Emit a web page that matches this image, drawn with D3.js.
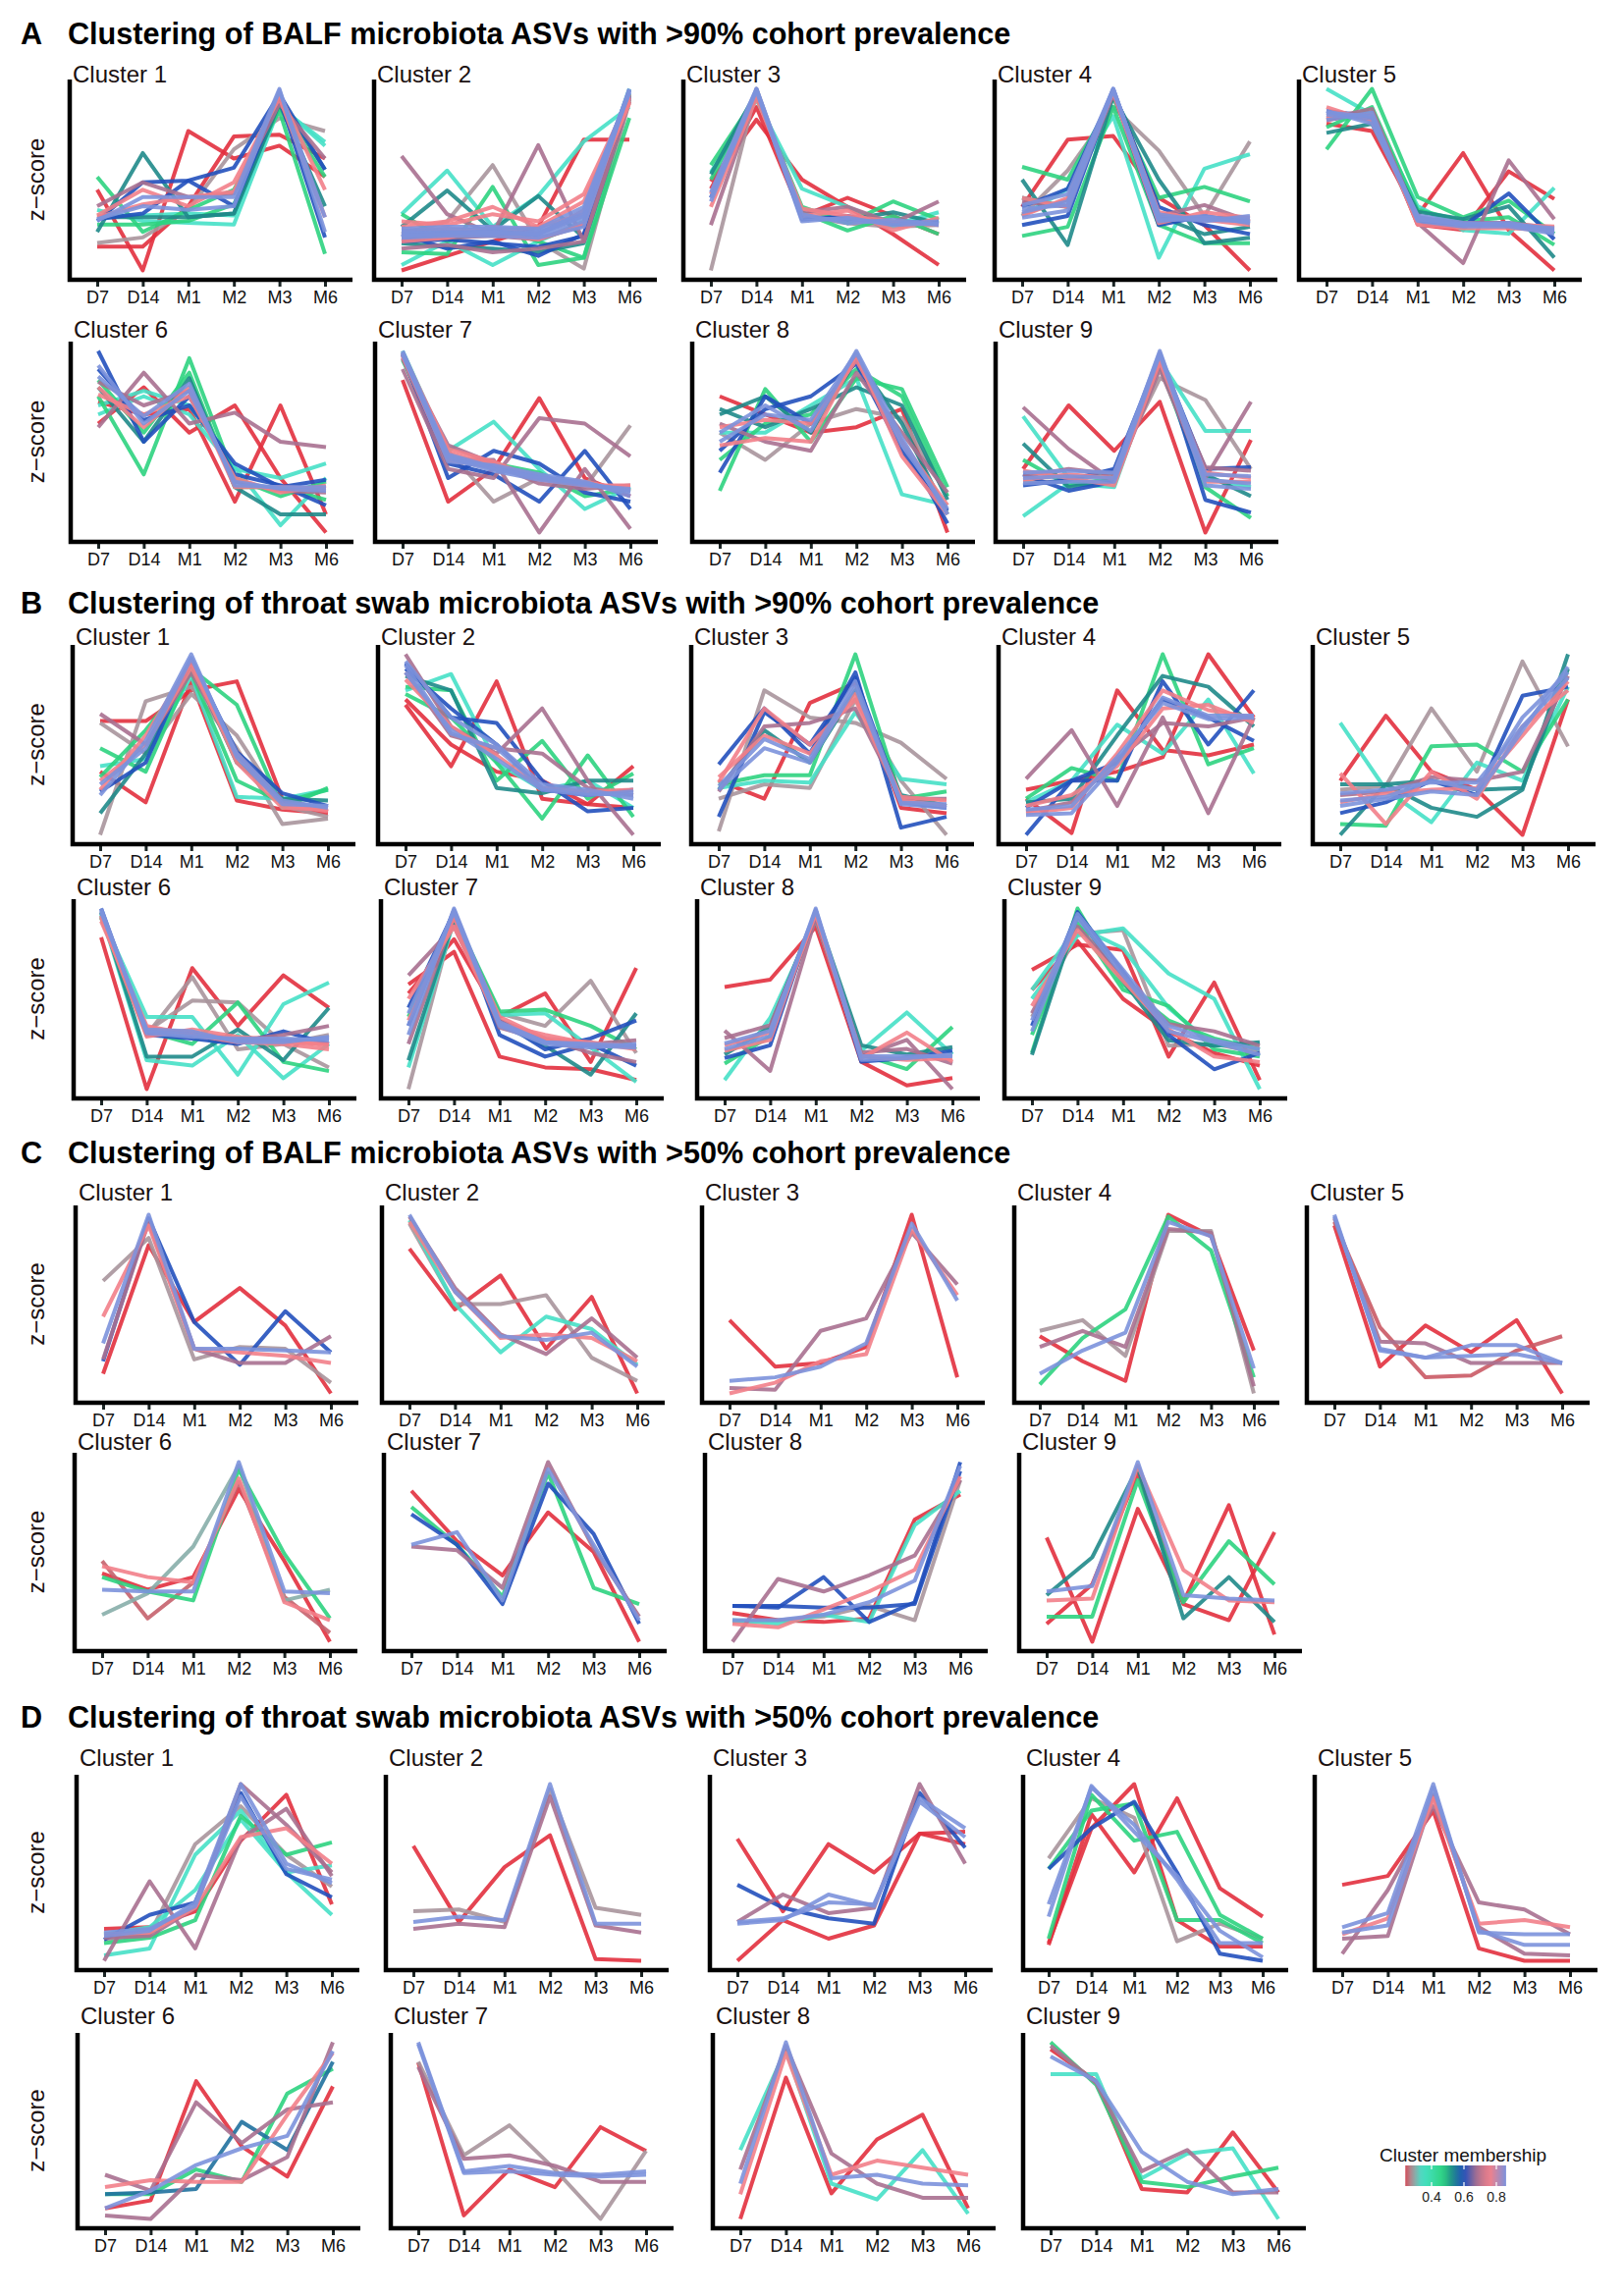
<!DOCTYPE html>
<html><head><meta charset="utf-8">
<script src="https://cdn.jsdelivr.net/npm/d3@7"></script>
<style>body{margin:0;background:#fff}svg{display:block}</style>
</head><body>
<svg id="c" width="1654" height="2339"></svg>
<script>
// ---- time points / tick labels ----
const times = ["D7","D14","M1","M2","M3","M6"];
// ---- membership levels used by lines ----
const R=0.22, GR=0.28, T=0.34, G=0.47, TL=0.53, DB=0.60, MV=0.68, PK=0.76, LB=0.86;
// ---- legend ----
const legendTicks = [0.4, 0.6, 0.8];
const legendStops = [0.22, 0.28, 0.34, 0.40, 0.47, 0.53, 0.60, 0.68, 0.76, 0.86];
const legendColors = ["#e2303e","#a8959c","#46e0c6","#3ddbaa","#2ed380","#1f8a8a","#2250bc","#a87090","#f2808a","#7c92dc"];
const titles = [
 "Clustering of BALF microbiota ASVs with >90% cohort prevalence",
 "Clustering of throat swab microbiota ASVs with >90% cohort prevalence",
 "Clustering of BALF microbiota ASVs with >50% cohort prevalence",
 "Clustering of throat swab microbiota ASVs with >50% cohort prevalence"];
const letters = ["A","B","C","D"];
// each line: [membership, D7, D14, M1, M2, M3, M6] (relative z-score)
const balf90 = [
[[R,4.4,0,7.6,6.1,6.8,5.1],[R,1.3,1.3,3.5,7.3,7.4,6.1],[GR,1.5,1.8,3.3,6.6,8.3,7.6],[G,5.1,2.1,3.3,4.4,8.7,0.9],[TL,2.1,6.4,2.9,3.1,9.1,3.5],[T,3.3,2.7,2.6,2.5,8.9,7.0],[DB,2.7,4.8,4.9,5.6,9.6,5.5],[DB,2.8,3.1,4.9,3.5,9.4,1.8],[PK,3.0,4.4,3.5,4.8,9.4,2.9],[MV,3.5,4.8,4.0,4.2,9.1,6.1],[PK,2.9,3.6,4.0,4.3,9.6,4.4],[LB,2.7,4.0,4.0,4.0,9.9,2.1],[LB,2.8,3.5,3.3,3.5,9.8,2.9],[TL,2.9,2.9,2.9,3.1,9.3,5.5],[G,2.5,2.5,2.7,3.6,8.9,5.1],[T,3.0,3.0,3.1,3.0,9.0,6.8]],
[[MV,6.3,3.1,2.0,6.9,1.6,9.3],[GR,2.0,2.7,5.8,1.6,0.1,9.3],[R,0,0.8,1.6,2.4,7.2,7.2],[T,3.1,5.5,2.4,4.1,7.1,9.0],[TL,2.4,4.4,2.2,4.1,1.8,9.7],[G,1.0,0.9,4.6,0.3,0.7,8.4],[G,3.1,1.6,2.4,1.6,0.7,9.7],[T,0.3,1.6,0.3,1.6,2.7,10],[DB,2.0,1.2,1.6,0.8,2.0,9.5],[PK,2.4,2.7,3.5,2.4,3.1,9.3],[PK,1.6,1.8,2.4,2.0,3.3,9.2],[LB,2.0,2.0,2.2,1.9,2.7,10],[LB,2.2,2.2,2.3,2.2,3.1,9.9],[LB,1.8,1.9,1.9,1.8,2.4,9.95],[MV,1.2,1.4,1.0,1.2,1.6,9.5],[LB,2.3,2.4,2.4,2.3,3.5,9.8],[DB,1.6,1.7,1.5,1.3,1.9,9.6],[PK,2.7,2.5,3.1,2.7,4.2,9.5],[LB,2.1,2.1,2.0,2.1,2.9,9.9],[TL,1.5,1.3,1.2,1.0,1.5,9.4],[PK,1.9,2.1,2.0,1.7,2.6,9.7],[LB,2.0,2.1,2.1,2.0,3.0,9.8],[MV,1.8,1.8,1.9,1.7,2.5,9.6],[PK,2.2,2.3,2.2,2.4,3.8,9.4],[LB,1.9,2.0,2.1,2.0,3.3,9.9]],
[[GR,0,10,3.0,2.6,2.4,2.5],[R,4.9,8.3,5.0,3.5,2.0,0.3],[R,4.5,9.0,3.0,4.0,3.0,2.0],[G,5.8,9.6,3.5,2.6,3.8,2.8],[T,5.4,9.4,4.5,3.5,2.5,3.2],[TL,5.3,9.8,3.0,2.8,3.2,2.6],[DB,4.0,9.9,2.8,3.0,2.6,2.7],[MV,2.5,9.7,3.2,3.5,2.6,3.8],[PK,3.5,9.5,3.4,3.0,2.7,2.5],[PK,4.2,9.8,3.0,3.3,2.2,2.9],[LB,4.0,10,2.9,2.8,2.6,2.7],[LB,4.3,10,3.1,2.6,2.8,2.5],[LB,3.8,9.9,2.7,2.9,2.5,2.6],[G,5.0,9.7,3.2,2.2,3.0,2.0]],
[[R,3.5,7.2,7.4,4.0,2.5,0],[GR,3.0,5.5,9.0,6.6,3.0,7.1],[G,5.7,5.0,9.5,4.0,4.6,3.8],[G,1.9,2.4,9.0,2.5,1.5,1.5],[T,3.0,4.5,8.5,0.7,5.6,6.4],[TL,5.0,1.4,9.6,5.0,1.5,1.8],[TL,4.0,3.5,9.8,3.0,2.0,2.4],[DB,2.5,3.0,9.9,3.5,2.5,2.0],[DB,3.5,4.5,9.8,2.5,3.0,2.6],[MV,3.8,3.5,9.7,3.0,3.6,2.7],[PK,3.0,4.0,9.8,2.6,3.2,2.9],[PK,4.0,3.5,9.9,3.2,2.8,2.5],[LB,3.2,3.8,10,2.9,2.9,2.8],[LB,3.6,4.2,10,2.7,3.0,2.6],[LB,2.9,3.3,9.9,3.1,2.7,3.0],[LB,3.4,3.6,10,2.8,2.8,2.7],[MV,3.1,3.9,9.8,3.0,2.9,2.9]],
[[R,8.0,7.6,3.0,6.4,2.2,0],[R,8.2,8.6,2.5,2.2,5.4,3.9],[MV,8.6,8.2,2.6,0.4,6.0,2.8],[T,9.9,8.5,3.5,2.2,2.0,4.5],[G,6.6,9.9,4.0,2.9,3.8,2.0],[TL,7.5,8.0,3.2,2.8,3.5,0.7],[DB,8.7,8.4,2.6,2.4,4.2,1.7],[MV,8.3,8.8,2.8,2.6,2.6,2.3],[PK,8.9,8.1,2.9,2.5,2.5,2.4],[PK,8.4,8.5,2.5,2.3,2.3,2.2],[LB,8.5,8.3,2.8,2.5,2.6,2.2],[LB,8.2,8.6,2.7,2.4,2.4,2.0],[LB,8.7,8.0,3.0,2.6,2.5,2.3],[G,7.8,8.9,3.3,2.7,2.9,1.4],[LB,8.6,8.4,2.9,2.5,2.5,2.1]],
[[R,6.0,8.0,5.5,7.0,3.0,0],[R,7.2,6.5,6.8,1.7,7.0,1.0],[MV,5.8,8.8,6.0,6.6,5.0,4.7],[G,7.5,3.2,9.6,3.0,2.0,2.8],[T,7.0,7.8,7.0,3.6,0.4,3.0],[TL,8.0,5.0,8.5,2.5,1.0,1.0],[DB,10,5.0,7.5,3.2,2.6,1.5],[DB,9.0,6.2,7.0,3.8,2.5,2.9],[MV,8.3,7.0,7.8,2.8,2.3,2.2],[PK,8.0,5.8,8.0,2.5,2.5,2.4],[PK,7.6,6.5,7.5,3.0,2.2,2.6],[LB,9.2,6.0,7.8,2.8,2.4,2.3],[LB,8.6,6.4,8.2,2.6,2.5,2.5],[T,6.5,7.5,6.5,3.5,3.0,3.8],[G,8.4,5.5,8.8,2.5,2.5,1.8]],
[[R,8.4,1.7,3.5,7.4,3.0,2.0],[MV,9.0,3.5,3.0,6.3,6.0,4.2],[MV,9.6,4.0,4.0,0,3.5,0.2],[GR,9.8,4.5,1.7,3.0,2.5,5.9],[T,10,4.5,6.1,3.5,1.3,2.5],[DB,9.9,3.8,3.2,1.7,4.5,1.3],[DB,9.8,3.0,4.5,3.8,2.2,1.7],[G,9.5,4.2,3.8,3.3,2.0,2.4],[PK,9.7,4.0,3.6,3.0,2.8,2.3],[PK,9.9,4.6,3.9,2.9,2.6,2.6],[LB,10,4.3,3.6,3.1,2.7,2.2],[LB,9.8,4.1,3.4,2.9,2.6,2.4],[LB,9.9,3.9,3.7,3.2,2.8,2.0],[MV,9.6,4.8,3.8,2.7,2.4,2.6],[LB,9.9,4.2,3.5,3.0,2.7,2.3],[PK,9.8,4.4,3.7,3.1,2.6,2.5]],
[[R,7.5,6.5,5.5,5.8,6.8,0],[GR,5.5,4.0,6.0,6.8,6.3,2.0],[G,2.3,7.9,5.0,8.5,7.9,2.5],[G,4.0,6.0,6.5,9.0,7.5,2.0],[T,5.5,5.5,7.0,8.5,2.1,1.5],[TL,6.5,7.5,5.5,9.5,6.0,1.0],[DB,3.3,7.5,6.0,9.6,5.0,0.5],[DB,4.5,6.8,7.5,9.3,4.5,1.2],[MV,6.0,5.0,4.5,8.8,5.5,2.2],[PK,4.8,5.2,5.0,9.8,4.2,1.0],[PK,5.8,6.2,6.0,9.5,5.0,1.5],[LB,5.0,6.5,6.2,9.9,4.8,1.3],[LB,5.5,7.0,5.6,10,5.2,1.0],[TL,6.8,5.8,6.8,8.0,7.0,1.8]],
[[R,3.5,7.0,4.5,7.2,0,5.1],[MV,6.9,4.6,2.8,9.0,3.0,7.2],[T,6.4,3.0,3.2,9.5,5.6,5.6],[T,0.9,2.7,2.5,9.6,3.0,2.5],[GR,2.8,2.8,3.4,8.5,7.3,3.5],[G,4.0,2.6,3.0,9.2,2.5,0.8],[TL,4.9,2.5,2.9,9.5,3.2,2.0],[DB,3.2,2.3,2.8,9.8,1.8,1.1],[DB,2.6,2.9,3.5,9.7,3.5,3.6],[PK,2.9,3.2,3.0,9.6,2.8,2.8],[PK,3.4,3.0,2.6,9.4,3.3,3.0],[LB,3.0,3.1,3.0,10,2.9,2.7],[LB,3.3,3.4,3.3,9.9,3.2,3.1],[LB,2.7,2.8,2.8,9.8,2.6,2.4],[MV,3.1,3.5,3.2,9.3,3.6,3.4]]
];
const throat90 = [
[[R,6.3,6.3,8.0,8.5,2.0,1.3],[R,3.5,1.8,8.5,1.9,1.4,1.2],[GR,6.2,4.5,7.8,5.5,1.6,1.0],[GR,0,7.4,8.2,4.8,0.6,0.9],[MV,6.7,5.0,9.0,4.5,1.8,1.5],[G,4.8,3.5,9.2,7.2,1.5,2.6],[T,3.8,4.2,8.8,2.1,2.0,2.5],[TL,1.2,4.5,9.5,4.0,2.0,1.9],[DB,2.4,4.0,9.7,4.6,2.3,1.6],[PK,3.0,5.0,9.3,4.4,1.7,1.3],[PK,2.5,5.5,9.6,4.0,1.5,1.4],[LB,2.2,5.2,10,4.3,1.7,1.6],[LB,2.8,4.8,9.8,4.5,1.9,1.5],[G,3.2,5.8,9.0,3.0,1.8,2.5]],
[[R,7.2,3.8,8.5,2.0,1.7,3.8],[R,7.5,5.0,3.5,3.0,1.7,1.5],[MV,10,6.0,4.5,7.0,3.0,0],[T,8.0,8.9,4.0,2.5,3.0,1.5],[G,8.2,8.0,3.0,5.2,2.0,3.4],[G,7.8,6.5,4.0,0.9,4.4,1.0],[TL,8.8,8.0,2.6,2.3,3.0,3.0],[DB,9.5,6.5,6.2,3.0,1.3,1.5],[DB,9.2,7.0,5.0,2.5,2.2,2.5],[MV,9.0,5.5,4.8,4.5,2.6,2.2],[PK,8.6,6.0,4.4,2.6,2.4,2.5],[LB,9.4,5.6,4.8,2.6,2.3,2.2],[LB,9.0,5.8,4.2,2.5,2.2,2.4],[LB,9.6,6.5,5.0,2.8,2.5,2.0]],
[[R,3.0,2.0,7.3,8.4,1.5,1.2],[GR,0.2,8.0,6.5,6.2,5.1,3.1],[T,2.6,3.0,2.9,6.8,3.1,2.8],[G,2.8,3.3,3.3,10,2.0,2.4],[TL,2.5,5.8,4.0,8.0,2.2,1.6],[DB,3.9,7.0,4.5,9.0,0.4,1.0],[DB,1.0,6.8,5.0,8.7,1.8,1.5],[MV,2.4,6.0,6.2,7.0,2.0,2.0],[PK,2.9,7.0,5.0,7.5,1.9,1.6],[PK,3.2,5.5,4.5,7.8,2.1,1.9],[LB,2.7,5.3,4.2,8.5,1.8,1.7],[LB,2.5,4.8,4.0,8.2,1.7,1.5],[GR,2.0,2.8,2.6,7.5,3.0,0]],
[[R,2.0,0.1,8.0,4.7,4.4,5.0],[R,2.5,3.0,3.5,4.3,10,6.5],[MV,3.1,5.8,1.6,6.5,1.2,6.5],[T,1.8,3.0,6.1,4.5,7.5,3.4],[G,2.0,3.7,3.0,10,3.9,4.8],[TL,1.8,2.0,5.5,8.8,8.2,6.0],[DB,0,3.0,3.0,8.5,5.0,8.0],[DB,1.5,3.0,4.0,7.5,6.5,5.2],[MV,1.3,1.8,4.2,6.2,6.0,6.5],[PK,1.2,1.5,4.5,8.0,6.9,6.5],[PK,1.6,2.2,3.8,7.0,7.2,6.2],[LB,1.1,1.2,4.0,7.6,6.6,6.6],[LB,1.4,1.6,4.3,7.3,6.4,6.5]],
[[R,3.0,6.6,3.5,2.5,0,7.5],[GR,2.5,2.7,7.0,3.5,9.6,4.9],[T,6.2,2.5,0.7,4.0,3.0,8.2],[G,0.6,0.5,4.9,5.0,3.5,7.5],[TL,0,2.8,1.5,1.0,2.5,10],[TL,2.8,2.8,3.0,2.5,2.6,9.2],[DB,1.2,1.8,3.0,2.2,7.7,8.2],[MV,2.2,2.4,3.2,3.0,3.5,8.8],[PK,3.4,0.6,3.5,2.0,6.0,8.0],[PK,1.8,2.3,2.5,2.6,5.5,8.5],[LB,1.9,2.1,3.0,2.5,6.5,9.0],[LB,2.3,2.5,2.9,2.9,6.0,8.7],[LB,1.6,2.0,2.4,2.2,5.8,9.3]],
[[R,8.4,0,6.7,3.5,6.3,4.5],[GR,9.5,3.0,6.2,2.2,2.5,1.2],[GR,9.8,3.2,4.9,4.8,2.5,3.0],[T,9.6,4.0,4.0,0.8,4.7,5.9],[T,9.7,1.6,1.3,3.0,0.6,2.5],[G,9.5,3.2,2.5,4.8,1.5,1.0],[TL,9.8,1.8,1.8,3.3,1.6,4.5],[DB,10,3.0,2.8,2.5,3.2,2.5],[MV,9.6,3.2,3.1,2.7,3.0,3.5],[PK,9.3,3.5,3.0,2.6,2.5,2.2],[PK,9.5,2.9,3.3,2.9,2.7,2.4],[LB,10,3.1,2.9,2.8,2.8,2.7],[LB,9.8,3.3,3.2,2.6,2.6,2.9],[LB,9.9,3.2,3.0,2.7,2.7,2.8],[PK,9.6,3.4,3.1,2.8,2.6,2.5]],
[[R,5.8,7.6,1.8,1.2,1.1,0.5],[R,5.3,8.3,4.0,5.3,1.5,6.7],[MV,6.3,9.0,3.8,2.8,2.0,1.5],[GR,0,9.5,4.2,3.5,6.0,2.0],[T,1.2,9.3,4.1,4.2,2.3,0.4],[G,4.0,9.6,4.3,4.4,3.5,2.2],[TL,1.6,9.4,3.6,2.4,0.8,4.2],[DB,4.5,9.8,3.8,2.2,2.8,3.8],[DB,3.5,9.9,3.0,1.8,2.5,1.3],[PK,5.0,9.0,3.6,3.0,2.5,2.4],[PK,3.8,9.5,4.0,2.8,2.6,2.2],[LB,3.0,10,3.7,2.6,2.4,2.3],[LB,4.2,9.8,3.5,2.5,2.3,2.5],[MV,2.5,9.6,3.4,2.7,2.5,2.7],[LB,3.5,9.9,3.6,2.6,2.5,2.4]],
[[R,5.7,6.1,9.0,1.6,0.3,0.7],[MV,3.3,1.1,9.5,1.9,2.8,0.1],[T,0.6,4.0,9.4,2.2,4.3,2.0],[G,1.5,3.0,9.6,2.0,1.2,3.5],[TL,2.0,3.5,9.8,2.5,2.0,2.4],[DB,1.8,2.5,9.9,1.6,1.8,2.2],[PK,2.5,3.2,9.7,1.8,3.2,1.6],[PK,2.2,2.8,9.8,1.9,1.7,1.8],[LB,2.3,3.0,10,1.9,1.9,1.9],[LB,2.6,3.3,9.9,1.7,1.8,2.0],[MV,2.9,3.6,9.5,2.1,2.3,1.5]],
[[R,6.6,8.0,7.7,1.8,5.9,0.5],[R,5.5,8.2,5.0,3.2,2.0,1.3],[T,5.0,8.5,8.9,6.4,5.0,0],[T,5.5,9.0,7.8,4.5,2.4,2.5],[G,2.0,10,5.8,3.8,2.8,2.2],[G,3.0,9.2,5.5,4.6,2.2,1.8],[TL,1.9,9.6,6.0,2.7,2.4,2.6],[DB,3.5,9.8,6.5,3.0,1.1,2.0],[MV,4.2,9.0,6.2,3.6,3.2,2.4],[PK,4.6,8.8,6.0,3.3,1.8,1.5],[LB,3.8,9.7,6.6,3.5,2.7,2.2],[LB,3.2,9.5,6.3,3.2,2.6,1.9],[GR,4.0,8.6,8.8,2.4,2.5,2.0]]
];
const balf50 = [
[[R,1.1,8.3,4.0,5.9,3.8,0],[GR,6.3,8.7,1.9,2.6,2.5,0.6],[PK,4.3,9.4,2.5,2.3,2.1,1.7],[DB,1.8,9.8,4.0,1.6,4.6,2.3],[MV,1.9,9.6,2.5,1.7,1.7,3.2],[LB,2.8,10,2.5,2.5,2.4,2.3]],
[[R,8.1,4.7,6.6,2.5,5.4,0],[GR,9.5,5.0,5.0,5.5,2.0,0.7],[T,9.7,5.0,2.3,4.3,3.6,1.6],[MV,9.9,5.9,3.3,2.2,4.2,2.0],[PK,9.6,5.7,3.1,3.3,3.1,1.8],[LB,10,5.7,3.2,3.0,3.4,1.5]],
[[R,4.1,1.5,1.7,2.6,10,0.9],[MV,0.3,0.2,3.5,4.2,9.0,6.1],[PK,0,0.6,1.8,2.2,9.2,5.5],[LB,0.7,0.9,1.5,2.8,9.5,5.2]],
[[R,3.2,1.8,0.7,10,8.8,2.4],[GR,3.5,4.1,2.1,9.1,9.1,0],[MV,2.6,3.5,2.6,9.2,9.0,0.4],[G,0.5,3.1,4.7,9.9,8.0,0.9],[LB,1.1,2.4,3.4,9.6,8.8,1.4]],
[[R,9.4,1.5,3.8,2.3,4.1,0],[0.245,9.6,3.7,0.9,1.0,2.4,3.2],[MV,9.8,2.9,2.8,1.7,1.7,1.7],[LB,10,2.4,2.0,2.7,2.7,1.7],[LB,9.9,2.5,2.0,2.1,2.2,1.7]],
[[R,3.8,2.9,3.6,8.5,4.5,0],[0.25,4.5,1.3,3.3,8.9,2.5,0.5],[PK,4.2,3.6,3.3,9.1,2.2,1.2],[G,3.6,2.8,2.3,9.6,4.9,1.3],[0.30,1.5,2.7,5.3,9.8,2.3,2.9],[LB,2.9,2.8,2.8,10,2.8,2.7]],
[[R,8.4,5.6,3.7,7.2,5.0,0],[G,7.5,5.4,2.5,9.4,3.0,2.1],[DB,7.1,5.4,2.1,8.8,6.0,1.0],[MV,5.3,5.1,3.0,10,5.2,1.4],[LB,5.4,6.1,2.3,9.6,5.4,1.2]],
[[R,1.6,1.2,1.1,1.3,6.8,8.2],[MV,0,3.5,2.8,3.7,4.8,9.0],[T,1.2,1.0,1.5,1.1,6.5,8.4],[DB,2.0,1.9,3.6,1.1,2.2,10],[DB,2.0,2.0,1.9,1.9,2.1,9.5],[PK,1.0,0.8,1.8,2.8,4.0,9.2],[GR,1.1,1.2,1.4,2.0,1.2,9.0],[LB,1.2,1.2,1.5,2.2,3.4,9.8]],
[[R,5.8,0,7.4,2.2,7.6,0.4],[R,1.0,3.2,9.4,2.1,1.2,6.1],[G,1.4,1.4,9.0,2.2,5.6,3.2],[TL,2.6,4.7,9.7,1.3,3.6,1.1],[PK,2.3,2.4,9.8,4.0,2.3,2.2],[LB,2.8,3.1,10,2.6,2.4,2.3]]
];
const throat50 = [
[[R,1.8,1.9,2.8,6.8,9.4,3.2],[MV,0,4.5,0.7,6.9,8.6,4.8],[GR,1.2,1.5,6.6,8.75,6.0,4.2],[T,0.3,0.7,6.0,8.5,5.0,2.6],[G,1.0,1.3,2.3,8.2,6.0,6.7],[T,1.5,1.9,4.0,8.0,5.0,5.4],[DB,1.2,2.6,3.3,9.5,4.9,3.6],[PK,1.5,1.6,3.0,7.0,7.5,5.5],[MV,1.3,1.4,3.0,10,7.7,5.0],[LB,1.4,1.7,3.3,10,5.5,4.4],[LB,1.6,1.8,3.1,9.3,5.2,4.6]],
[[R,6.5,2.2,5.3,7.1,0.1,0],[GR,2.8,2.9,2.2,9.7,3.0,2.6],[MV,1.8,2.1,1.9,9.3,2.0,1.6],[LB,2.2,2.5,2.3,10,2.1,2.1]],
[[R,6.9,2.8,6.6,5.0,7.2,6.6],[R,0,2.3,1.25,2.0,7.2,7.3],[DB,4.3,3.0,2.4,2.1,9.5,6.4],[MV,2.2,3.75,2.7,3.0,10,5.5],[LB,2.1,2.3,3.75,3.1,9.2,7.5],[LB,2.2,2.4,3.3,3.2,9.0,7.0]],
[[R,0.9,8.3,5.0,9.2,4.1,2.5],[R,1.0,7.5,10,2.3,0.8,0.8],[GR,5.8,9.2,8.1,1.1,2.1,1.25],[G,1.25,9.4,6.8,7.3,2.6,1.25],[G,5.2,8.5,8.9,2.3,2.3,1.0],[DB,5.2,7.5,9.0,5.0,0.4,0],[LB,2.5,9.9,7.3,4.8,1.7,0.2],[LB,3.2,9.8,7.7,4.6,1.0,1.0]],
[[R,4.3,4.8,8.5,0.7,0,0],[MV,0.4,4.0,8.75,3.3,2.9,1.5],[MV,1.25,1.4,9.4,1.9,0.4,0.3],[PK,1.5,2.4,9.2,2.1,2.3,1.9],[LB,1.9,2.7,10,1.6,1.5,1.5],[LB,1.6,2.0,9.8,1.7,0.9,0.9]],
[[R,0.6,1.05,7.8,4.1,2.4,7.5],[MV,2.5,1.6,6.6,4.3,6.2,6.6],[MV,0.2,0,2.5,2.2,3.5,10],[G,1.4,1.4,2.8,2.1,7.1,8.5],[0.56,1.4,1.5,1.7,5.5,3.9,8.9],[PK,1.8,2.2,2.1,2.1,5.9,9.4],[LB,0.6,1.6,3.05,4.0,4.7,9.5]],
[[R,8.85,0.2,2.8,1.8,5.2,3.85],[GR,8.9,3.6,5.3,2.8,0,3.85],[MV,8.6,3.4,3.6,3.0,2.1,2.1],[LB,10,2.7,3.0,2.6,2.5,2.7],[LB,9.9,2.6,2.7,2.5,2.4,2.5]],
[[R,0,8.0,1.45,4.5,5.9,0.6],[T,3.9,9.6,2.0,1.1,3.9,0.3],[MV,2.8,9.8,3.7,2.0,1.2,1.2],[PK,1.4,9.4,2.5,3.3,2.9,2.5],[LB,2.0,10,2.3,2.5,2.0,1.9]],
[[R,9.6,7.8,1.7,1.5,4.9,1.5],[T,8.2,8.2,2.3,3.7,4.0,0],[G,10,7.6,2.1,1.8,2.4,2.9],[MV,9.8,7.7,2.7,3.9,1.5,1.5],[LB,9.2,7.8,3.8,2.1,1.4,1.7]]
];

// ---------------- layout (positions, not data) ----------------
const layout = [
 {titleY:45, rows:[{top:81,base:285,label:84},{top:348,base:552,label:344}], ax:[71,381,696,1013,1323,72,382,705,1014], narrow:[]},
 {titleY:625, rows:[{top:657,base:860,label:657},{top:916,base:1119,label:912}], ax:[74,385,704,1017,1337,75,388,710,1023], narrow:[]},
 {titleY:1185, rows:[{top:1228,base:1429,label:1223},{top:1480,base:1682,label:1477}], ax:[77,389,715,1033,1331,76,391,718,1038], narrow:[3]},
 {titleY:1760, rows:[{top:1808,base:2007,label:1799},{top:2071,base:2270,label:2062}], ax:[78,393,723,1042,1339,79,398,726,1042], narrow:[3]}
];
const sectionData = [balf90, throat90, balf50, throat50];
const FONT = "'Liberation Sans', Arial, Helvetica, sans-serif";

const svg = d3.select("#c");
const color = d3.scaleLinear().domain(legendStops).range(legendColors).interpolate(d3.interpolateRgb).clamp(true);

layout.forEach((sec, si) => {
  svg.append("text").attr("x",21).attr("y",sec.titleY).attr("font-family",FONT).attr("font-weight","bold").attr("font-size",30.6).attr("fill","#000").text(letters[si]);
  svg.append("text").attr("x",69).attr("y",sec.titleY).attr("font-family",FONT).attr("font-weight","bold").attr("font-size",30.6).attr("fill","#000").text(titles[si]);
  sec.rows.forEach(r => {
    const cy = (r.top + r.base)/2;
    svg.append("text").attr("transform",`translate(45,${cy}) rotate(-90)`).attr("text-anchor","middle")
      .attr("font-family",FONT).attr("font-size",24).attr("fill","#1a1010").text("z\u2212score");
  });
  sectionData[si].forEach((lines, pi) => {
    const r = sec.rows[pi < 5 ? 0 : 1];
    const ax = sec.ax[pi];
    const nar = sec.narrow.includes(pi);
    const x = d3.scalePoint().domain(times).range(nar ? [ax+26, ax+244] : [ax+28, ax+260]);
    const xe = nar ? ax+270 : ax+288;
    const vals = lines.flatMap(l => l.slice(1));
    const y = d3.scaleLinear().domain(d3.extent(vals)).range([r.base-9.5, r.top+9.5]);
    const g = svg.append("g");
    const sorted = lines.slice().sort((a,b) => a[0]-b[0]);
    const line = d3.line().x((d,j) => x(times[j])).y(d => y(d));
    g.selectAll("path.ln").data(sorted).join("path").attr("class","ln")
      .attr("d", d => line(d.slice(1))).attr("fill","none")
      .attr("stroke", d => color(d[0])).attr("stroke-width",4).attr("stroke-opacity",0.9)
      .attr("stroke-linejoin","round").attr("stroke-linecap","butt");
    const axG = g.append("g").attr("transform",`translate(0,${r.base})`)
      .call(d3.axisBottom(x).tickSize(7).tickSizeOuter(0));
    axG.select(".domain").remove();
    axG.attr("font-family",FONT).attr("font-size",18);
    axG.selectAll(".tick line").attr("stroke","#1c2626").attr("stroke-width",3);
    axG.selectAll(".tick text").attr("y",24).attr("dy",null).attr("fill","#111");
    g.append("path").attr("d",`M${ax},${r.top}V${r.base}H${xe}`).attr("fill","none")
      .attr("stroke","#000").attr("stroke-width",4.5).attr("stroke-linejoin","miter");
    g.append("text").attr("x",ax+3).attr("y",r.label).attr("font-family",FONT).attr("font-size",24)
      .attr("fill","#1a1010").text("Cluster " + (pi+1));
  });
});

// ---------------- legend ----------------
const lx = d3.scaleLinear().domain([0.4,0.8]).range([1458,1524]);
const barMin = 0.238, barMax = 0.86;
const defs = svg.append("defs");
const grad = defs.append("linearGradient").attr("id","mg").attr("x1","0%").attr("x2","100%");
d3.range(0,1.0001,0.05).forEach(t => {
  const m = barMin + t*(barMax-barMin);
  grad.append("stop").attr("offset",(t*100)+"%").attr("stop-color",color(m));
});
svg.append("text").attr("x",1405).attr("y",2202).attr("font-family",FONT).attr("font-size",19).attr("fill","#111").text("Cluster membership");
svg.append("rect").attr("x",lx(barMin)).attr("y",2206).attr("width",lx(barMax)-lx(barMin)).attr("height",21).attr("fill","url(#mg)");
legendTicks.forEach(v => {
  svg.append("line").attr("x1",lx(v)).attr("x2",lx(v)).attr("y1",2206).attr("y2",2210).attr("stroke","#fff").attr("stroke-width",1.2);
  svg.append("line").attr("x1",lx(v)).attr("x2",lx(v)).attr("y1",2223).attr("y2",2227).attr("stroke","#fff").attr("stroke-width",1.2);
  svg.append("text").attr("x",lx(v)).attr("y",2243).attr("text-anchor","middle").attr("font-family",FONT).attr("font-size",14).attr("fill","#222").text(v.toFixed(1));
});
</script>
</body></html>
